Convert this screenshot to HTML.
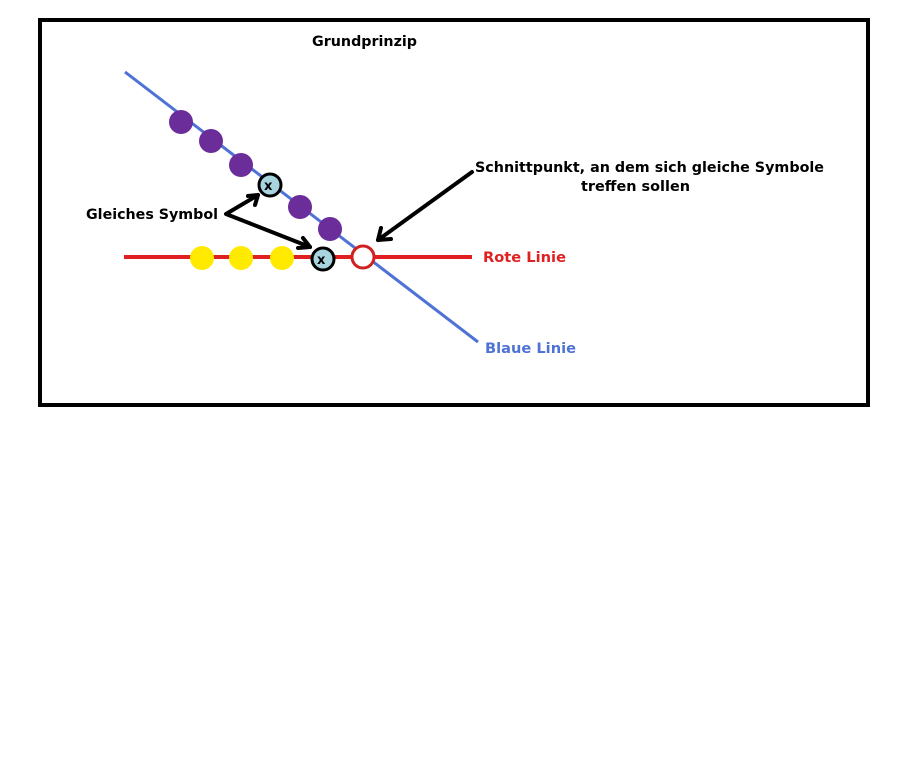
<!DOCTYPE html>
<html><head><meta charset="utf-8"><style>
html,body{margin:0;padding:0;background:#fff;width:911px;height:761px;overflow:hidden}
text{font-family:"DejaVu Sans","Liberation Sans",sans-serif;font-weight:bold;font-size:14px}
</style></head><body>
<svg width="911" height="761" xmlns="http://www.w3.org/2000/svg">
<rect x="40" y="20" width="828" height="385" fill="#fff" stroke="#000" stroke-width="4"/>
<text x="312" y="46" textLength="105" lengthAdjust="spacingAndGlyphs">Grundprinzip</text>
<line x1="125" y1="72" x2="478" y2="342" stroke="#4f72d6" stroke-width="3"/>
<line x1="124" y1="257" x2="472" y2="257" stroke="#e02020" stroke-width="4"/>
<g fill="#6a2d9a">
<circle cx="181" cy="122" r="12"/><circle cx="211" cy="141" r="12"/><circle cx="241" cy="165" r="12"/>
<circle cx="300" cy="207" r="12"/><circle cx="330" cy="229" r="12"/>
</g>
<g fill="#ffea00">
<circle cx="202" cy="258" r="12"/><circle cx="241" cy="258" r="12"/><circle cx="282" cy="258" r="12"/>
</g>
<circle cx="270" cy="185" r="11" fill="#a8d4e0" stroke="#000" stroke-width="3"/>
<text x="264" y="190" style="font-size:13px">x</text>
<circle cx="323" cy="259" r="11" fill="#a8d4e0" stroke="#000" stroke-width="3"/>
<text x="317" y="264" style="font-size:13px">x</text>
<circle cx="363" cy="257" r="11" fill="#fff" stroke="#d02020" stroke-width="3"/>
<g stroke="#000" stroke-width="4" fill="none" stroke-linecap="round" stroke-linejoin="round">
<polyline points="258,195 226,214 310,247"/>
<polyline points="248,196 258,195 255,205"/>
<polyline points="298,248 310,247 303,238"/>
<line x1="472" y1="172" x2="378" y2="240"/>
<polyline points="381,228 378,240 391,239"/>
</g>
<text x="86" y="219" textLength="132" lengthAdjust="spacingAndGlyphs">Gleiches Symbol</text>
<text x="475" y="172" textLength="349" lengthAdjust="spacingAndGlyphs">Schnittpunkt, an dem sich gleiche Symbole</text>
<text x="581" y="191" textLength="109" lengthAdjust="spacingAndGlyphs">treffen sollen</text>
<text x="483" y="262" fill="#e02020" textLength="83" lengthAdjust="spacingAndGlyphs">Rote Linie</text>
<text x="485" y="353" fill="#4f72d6" textLength="91" lengthAdjust="spacingAndGlyphs">Blaue Linie</text>
</svg>
</body></html>
